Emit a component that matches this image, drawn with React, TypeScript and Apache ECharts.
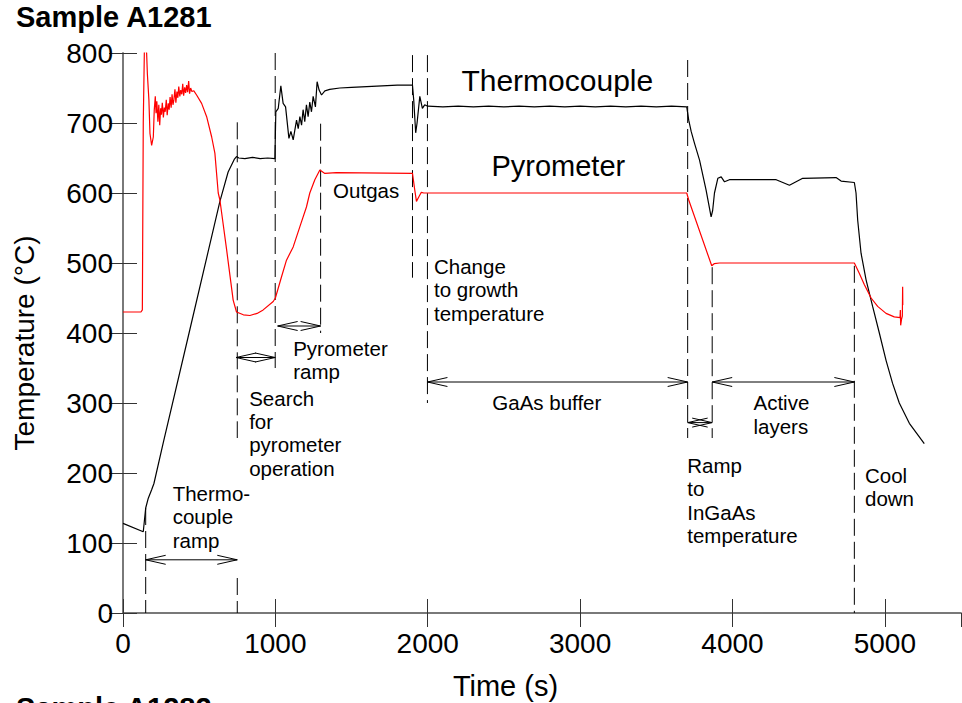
import { useEffect, useRef } from 'react';
import * as echarts from 'echarts';

const FONT = '"Liberation Sans", Arial, Helvetica, sans-serif';

// Thermocouple reading [time s, temperature °C]
const thermocouple: [number, number][] = [
  [0, 128], [133, 116], [149, 150], [166, 164], [188, 176], [203, 185], [264, 243],
  [439, 405], [636, 588], [690, 630], [730, 648], [745, 652], [760, 650],
  [800, 649], [850, 651], [900, 649], [950, 650], [997, 649], [1003, 716], [1019, 721],
  [1036, 753], [1051, 728], [1067, 723], [1089, 678], [1102, 688], [1117, 676], [1139, 704],
  [1150, 692], [1161, 709], [1172, 697], [1182, 719], [1193, 702], [1204, 726], [1215, 709],
  [1226, 730], [1237, 716], [1248, 738], [1263, 723], [1274, 759], [1287, 747], [1303, 740],
  [1325, 746], [1357, 748], [1423, 750], [1500, 751], [1600, 752], [1700, 753], [1800, 754],
  [1900, 754], [1908, 733], [1921, 686], [1930, 700], [1948, 738], [1965, 721], [1980, 726],
  [2000, 724], [2100, 723], [2200, 724], [2300, 723], [2400, 724], [2500, 723], [2600, 724],
  [2700, 723], [2800, 724], [2900, 723], [3000, 724], [3100, 723], [3200, 724], [3300, 723],
  [3400, 724], [3500, 723], [3600, 724], [3700, 723], [3713, 704], [3729, 688], [3751, 671],
  [3784, 647], [3827, 604], [3860, 566], [3870, 575], [3882, 600], [3904, 621], [3926, 623],
  [3948, 616], [3980, 619], [4287, 619], [4374, 611], [4461, 621], [4680, 622], [4713, 617],
  [4800, 615], [4811, 600], [4822, 561], [4844, 514], [4877, 476], [4920, 438], [4964, 400],
  [5008, 361], [5051, 328], [5095, 300], [5161, 271], [5259, 242],
];

// Pyrometer reading [time s, temperature °C]
const pyrometer: [number, number][] = [
  [0, 430], [118, 430], [127, 433], [133, 700], [140, 800], [146, 830], [150, 805], [155, 800],
  [160, 770], [170, 733], [177, 685], [188, 668], [199, 680], [205, 718], [212, 738], [217, 714],
  [222, 731], [229, 702], [235, 726], [241, 697], [247, 721], [252, 712], [258, 729], [265, 708],
  [271, 722], [277, 716], [284, 733], [290, 711], [297, 728], [303, 719], [309, 737], [316, 722],
  [322, 741], [328, 726], [334, 733], [341, 748], [347, 729], [354, 745], [360, 736], [366, 752],
  [373, 738], [379, 747], [386, 741], [392, 756], [398, 739], [405, 751], [411, 743], [418, 754],
  [424, 744], [431, 760], [437, 742], [444, 750], [452, 745], [465, 746], [483, 740], [516, 728],
  [549, 709], [582, 680], [603, 657], [625, 600], [636, 590], [680, 519], [723, 447], [745, 430],
  [790, 426], [833, 425], [880, 428], [920, 433], [986, 445], [1000, 450], [1040, 480],
  [1073, 504], [1117, 523], [1161, 552], [1204, 580], [1226, 600], [1259, 619], [1292, 633],
  [1325, 628], [1400, 629], [1900, 628], [1915, 604], [1926, 588], [1943, 595], [1958, 601],
  [1974, 600], [3700, 600], [3713, 590], [3864, 496], [3880, 499], [3915, 500], [4800, 500],
  [4833, 485], [4866, 469], [4910, 450], [4953, 438], [5008, 428], [5062, 423], [5100, 422],
  [5102, 433], [5104, 411], [5110, 420], [5115, 424], [5117, 466], [5118, 440],
];

// Dashed phase boundaries [time, upper temp, lower temp]
const phaseLines: [number, number, number][] = [
  [149, 150, 0], [750, 701, 250], [750, 50, 0], [999, 800, 350], [1297, 699, 400],
  [1900, 797, 479], [1998, 797, 300], [3706, 790, 250], [3867, 494, 250], [4800, 496, 0],
];

// Double arrows [start time, end time, temp]
const spans: [number, number, number][] = [
  [149, 750, 76], [742, 999, 365], [1015, 1297, 410], [1998, 3706, 330],
  [3706, 3867, 272], [3867, 4800, 330],
];

const annotationTexts = [
  'Outgas', 'Change\nto growth\ntemperature', 'Pyrometer\nramp', 'Search\nfor\npyrometer\noperation',
  'Thermo-\ncouple\nramp', 'GaAs buffer', 'Active\nlayers', 'Ramp\nto\nInGaAs\ntemperature',
  'Cool\ndown', 'Thermocouple', 'Pyrometer',
];
const annotationAnchors: [number, number][] = [
  [1379, 603], [2041, 495], [1117, 378], [828, 307], [326, 171], [2424, 300], [4138, 300],
  [3703, 211], [4870, 197], [2221, 761], [2418, 639],
];
const annotationSize = [20.5, 20.5, 20.5, 20.5, 20.5, 20.5, 20.5, 20.5, 20.5, 30, 29];

const xTicks = { min: 0, max: 5500, interval: 1000 };
const yTicks = { min: 0, max: 800, interval: 100 };

export default function App() {
  const ref = useRef<HTMLDivElement>(null);
  useEffect(() => {
    const chart = echarts.init(ref.current!, null, { renderer: 'svg' });
    const axisLine = { show: true, lineStyle: { color: '#707070', width: 1.5 } };
    const axisTick = { show: true, inside: true, length: 14, lineStyle: { color: '#333', width: 1 } };
    const option: any = {
      animation: false,
      backgroundColor: '#ffffff',
      grid: { left: 123, top: 53, right: 1, bottom: 90, containLabel: false },
      xAxis: [
        {
          type: 'value', ...xTicks, position: 'bottom', axisLine, axisTick,
          axisLabel: {
            show: true, showMaxLabel: false, fontSize: 28, color: '#000', fontFamily: FONT, margin: 16,
            formatter: (v: number) => String(v),
          },
          splitLine: { show: false },
        },
        {
          type: 'value', ...xTicks, position: 'top', axisLine, axisTick,
          axisLabel: { show: false }, splitLine: { show: false },
        },
      ],
      yAxis: [
        {
          type: 'value', ...yTicks, position: 'left', axisLine, axisTick,
          axisLabel: { show: true, fontSize: 28, color: '#000', fontFamily: FONT, margin: 10, formatter: (v: number) => String(v) },
          splitLine: { show: false },
        },
        {
          type: 'value', ...yTicks, position: 'right', axisLine, axisTick,
          axisLabel: { show: false }, splitLine: { show: false },
        },
      ],
      series: [
        {
          type: 'line', name: 'Thermocouple', data: thermocouple, showSymbol: false, symbol: 'none',
          lineStyle: { color: '#000', width: 1.2 }, clip: true, z: 4, silent: true,
        },
        {
          type: 'line', name: 'Pyrometer', data: pyrometer, showSymbol: false, symbol: 'none',
          lineStyle: { color: '#ff0000', width: 1.2 }, clip: true, z: 5, silent: true,
        },
        {
          type: 'custom', data: phaseLines, encode: { x: 0, y: [1, 2] }, silent: true, z: 3,
          renderItem: (_p: any, api: any) => {
            const a = api.coord([api.value(0), api.value(1)]);
            const b = api.coord([api.value(0), api.value(2)]);
            return {
              type: 'line', shape: { x1: a[0], y1: a[1], x2: b[0], y2: b[1] },
              style: { stroke: '#000', lineWidth: 1, lineDash: [17, 6] },
            };
          },
        },
        {
          type: 'custom', data: spans, encode: { x: [0, 1], y: 2 }, silent: true, z: 3,
          renderItem: (_p: any, api: any) => {
            const a = api.coord([api.value(0), api.value(2)]);
            const b = api.coord([api.value(1), api.value(2)]);
            const L = 20, w = 4.5;
            const st = { stroke: '#000', lineWidth: 1, fill: 'none' };
            return {
              type: 'group',
              children: [
                { type: 'line', shape: { x1: a[0], y1: a[1], x2: b[0], y2: b[1] }, style: st },
                { type: 'polyline', shape: { points: [[a[0] + L, a[1] - w], [a[0], a[1]], [a[0] + L, a[1] + w]] }, style: st },
                { type: 'polyline', shape: { points: [[b[0] - L, b[1] - w], [b[0], b[1]], [b[0] - L, b[1] + w]] }, style: st },
              ],
            };
          },
        },
        {
          type: 'custom', data: annotationAnchors, encode: { x: 0, y: 1 }, silent: true, z: 6,
          renderItem: (p: any, api: any) => {
            const i = p.dataIndex;
            const c = api.coord([api.value(0), api.value(1)]);
            const fs = annotationSize[i];
            const lh = fs > 25 ? 32 : 23.4;
            return {
              type: 'text', x: c[0], y: c[1] - lh / 2,
              style: {
                text: annotationTexts[i], fill: '#000', fontFamily: FONT, fontSize: fs,
                lineHeight: lh, align: 'left', verticalAlign: 'top',
              },
            };
          },
        },
      ],
      graphic: [
        { type: 'text', x: 16, y: 17, style: { text: 'Sample A1281', font: `bold 29px ${FONT}`, fill: '#000', verticalAlign: 'middle' } },
        { type: 'text', x: 16, y: 708, style: { text: 'Sample A1282', font: `bold 29px ${FONT}`, fill: '#000', verticalAlign: 'middle' } },
        { type: 'text', x: 505.5, y: 686, style: { text: 'Time (s)', font: `29px ${FONT}`, fill: '#000', align: 'center', verticalAlign: 'middle' } },
        { type: 'text', x: 24, y: 343, rotation: Math.PI / 2, style: { text: 'Temperature (°C)', font: `28px ${FONT}`, fill: '#000', align: 'center', verticalAlign: 'middle' } },
      ],
    };
    chart.setOption(option);
    return () => chart.dispose();
  }, []);
  return <div ref={ref} style={{ position: 'fixed', left: 0, top: 0, width: 962, height: 703 }} />;
}
